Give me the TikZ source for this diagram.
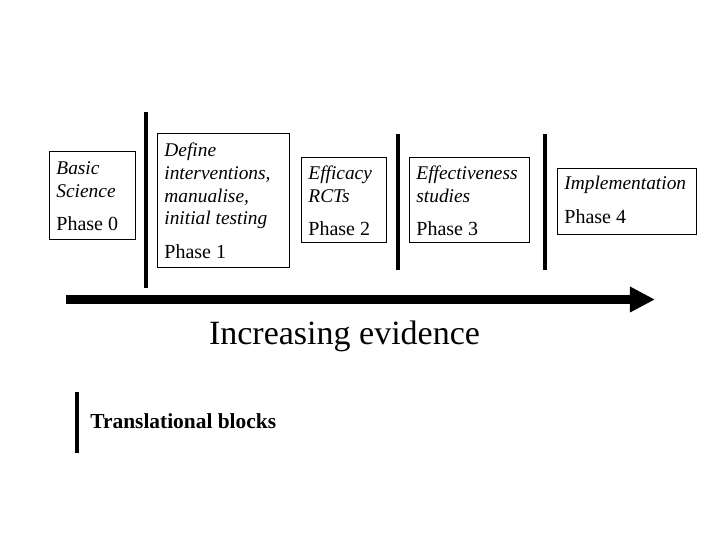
\documentclass[tikz,border=0pt]{standalone}
\usepackage{fontspec}
\setmainfont{Liberation Serif}
\usetikzlibrary{arrows.meta,calc}
\begin{document}
\begin{tikzpicture}[x=0.5pt,y=-0.5pt,
  phasebox/.style={draw, line width=0.6pt, anchor=north west, inner sep=0pt},
  itline/.style={anchor=base west, inner sep=0pt, font=\itshape\fontsize{9.7}{11}\selectfont},
  phline/.style={anchor=base west, inner sep=0pt},
  blockbar/.style={line width=2.2pt}]
\useasboundingbox (0,0) rectangle (720,540);
\node[phasebox, minimum width=43pt, minimum height=44pt] (ph0) at (49,151) {};
\node[phasebox, minimum width=66pt, minimum height=67pt] (ph1) at (157,133) {};
\node[phasebox, minimum width=42.5pt, minimum height=42.5pt] (ph2) at (301,157) {};
\node[phasebox, minimum width=60pt, minimum height=42.5pt] (ph3) at (409,157) {};
\node[phasebox, minimum width=69.5pt, minimum height=33pt] (ph4) at (557,168) {};
\node[itline] (t0a) at ($(ph0.north west)+(7,24)$) {Basic};
\node[itline] (t0b) at ($(ph0.north west)+(7,47)$) {Science};
\node[phline] (p0) at ($(ph0.north west)+(7,80)$) {Phase 0};
\node[itline] (t1a) at ($(ph1.north west)+(7,24)$) {Define};
\node[itline] (t1b) at ($(ph1.north west)+(7,47)$) {interventions,};
\node[itline] (t1c) at ($(ph1.north west)+(7,70)$) {manualise,};
\node[itline] (t1d) at ($(ph1.north west)+(7,92)$) {initial testing};
\node[phline] (p1) at ($(ph1.north west)+(7,126)$) {Phase 1};
\node[itline] (t2a) at ($(ph2.north west)+(7,23)$) {Efficacy};
\node[itline] (t2b) at ($(ph2.north west)+(7,46)$) {RCTs};
\node[phline] (p2) at ($(ph2.north west)+(7,79)$) {Phase 2};
\node[itline] (t3a) at ($(ph3.north west)+(7,23)$) {Effectiveness};
\node[itline] (t3b) at ($(ph3.north west)+(7,46)$) {studies};
\node[phline] (p3) at ($(ph3.north west)+(7,79)$) {Phase 3};
\node[itline] (t4a) at ($(ph4.north west)+(7,22)$) {Implementation};
\node[phline] (p4) at ($(ph4.north west)+(7,56)$) {Phase 4};
\draw[blockbar] (146,112) -- (146,288);
\draw[blockbar] (398,134) -- (398,270);
\draw[blockbar] (545,134) -- (545,270);
\coordinate (ev0) at (66,299.5);
\coordinate (ev1) at (655,299.5);
\draw[line width=4.5pt, -{Triangle[length=12.5pt,width=12pt]}] (ev0) -- (ev1);
\node[anchor=base, inner sep=0pt, font=\fontsize{17}{20}\selectfont] (evlabel) at (344.5,345) {Increasing evidence};
\draw[blockbar] (77,392) -- (77,453);
\node[anchor=base west, inner sep=0pt, font=\bfseries\fontsize{10.7}{12}\selectfont] (legend) at (90,429) {Translational blocks};
\end{tikzpicture}
\end{document}
